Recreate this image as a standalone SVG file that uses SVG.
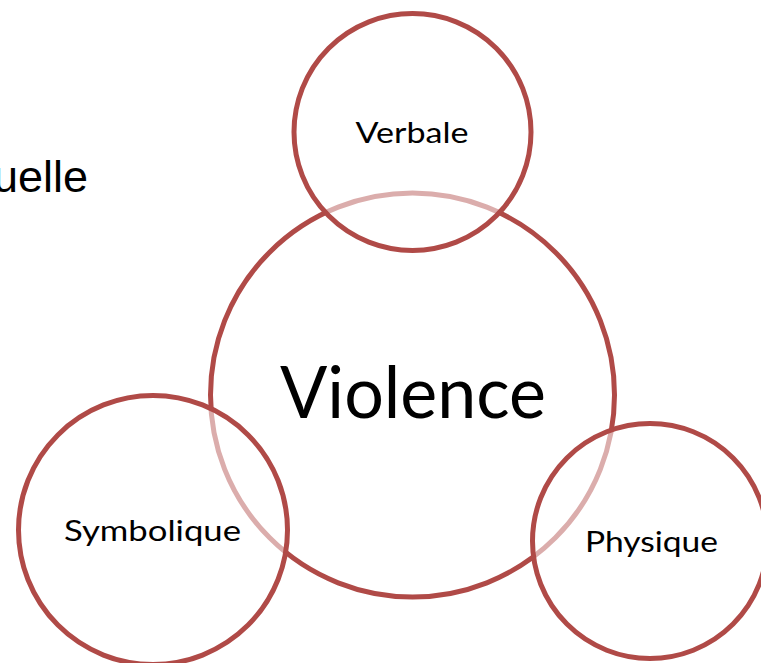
<svg xmlns="http://www.w3.org/2000/svg" width="761" height="663" viewBox="0 0 761 663">
<style>
.c{stroke:#B04A47;stroke-width:5}
.big{fill:#FFFFFF}
.small{fill:#FFFFFF;fill-opacity:0.55}
.t{font-family:"Lato","Open Sans","Liberation Sans",sans-serif;fill:#000;text-anchor:middle}
</style>
<rect width="761" height="663" fill="#FFFFFF"/>
<text x="88" y="192" font-family="Liberation Sans, Arial, sans-serif" font-size="45" text-anchor="end" fill="#000">uelle</text>
<g id="violence">
<circle class="c big" cx="412.5" cy="395" r="202"/>
<text class="t" x="413" y="418" font-size="71" textLength="266" lengthAdjust="spacingAndGlyphs">Violence</text>
</g>
<g id="verbale">
<circle class="c small" cx="412.5" cy="132" r="118.5"/>
<text class="t" x="412" y="143" font-size="28" textLength="113" lengthAdjust="spacingAndGlyphs">Verbale</text>
</g>
<g id="symbolique">
<circle class="c small" cx="153" cy="530" r="134.5"/>
<text class="t" x="152.5" y="541" font-size="28" textLength="177" lengthAdjust="spacingAndGlyphs">Symbolique</text>
</g>
<g id="physique">
<circle class="c small" cx="650" cy="541" r="117.5"/>
<text class="t" x="651.5" y="552" font-size="28" textLength="133" lengthAdjust="spacingAndGlyphs">Physique</text>
</g>
<g id="connectors"></g>
</svg>
